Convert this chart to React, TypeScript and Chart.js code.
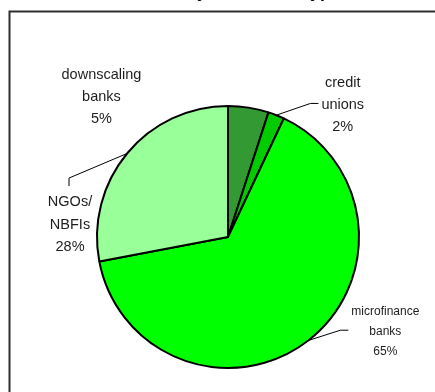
import React, { useEffect, useRef } from "react";
import { Chart, registerables } from "chart.js";

Chart.register(...registerables);

// Share of institutions by type (percent)
const categories = ["downscaling banks", "credit unions", "microfinance banks", "NGOs/NBFIs"];
const labelLines = [["downscaling", "banks"], ["credit", "unions"], ["microfinance", "banks"], ["NGOs/", "NBFIs"]];
const shares = [5, 2, 65, 28];
const sliceColors = ["#339933", "#00cc00", "#00ff00", "#99ff99"];
const titleText = "Distribution by institution type";

// Label placement, in units of the pie radius from the pie centre
const labelLayout = [
  { dx: -0.966, dy: -1.066, size: 14.5, gap: 22, leader: "none" },
  { dx: 0.876, dy: -1.008, size: 14.5, gap: 21.7, leader: "left" },
  { dx: 1.201, dy: 0.723, size: 12, gap: 19.7, leader: "left" },
  { dx: -1.206, dy: -0.095, size: 14.5, gap: 22.5, leader: "top" },
];

const FONT = "'Liberation Sans', Arial, sans-serif";

const framePlugin = {
  id: "frameAndTitle",
  beforeDraw(chart: any) {
    const ctx = chart.ctx;
    ctx.save();
    ctx.fillStyle = "#ffffff";
    ctx.fillRect(0, 0, chart.width, chart.height);
    ctx.strokeStyle = "#2e2e2e";
    ctx.lineWidth = 2;
    ctx.strokeRect(9.5, 11.5, chart.width + 40, chart.height + 40);
    // chart title sits above the top edge of the canvas
    ctx.fillStyle = "#000000";
    ctx.font = `bold italic 18px ${FONT}`;
    ctx.textAlign = "center";
    ctx.textBaseline = "alphabetic";
    ctx.fillText(titleText, 212, -3);
    ctx.restore();
  },
};

const labelPlugin = {
  id: "pieLabels",
  afterDatasetsDraw(chart: any) {
    const ctx = chart.ctx;
    const meta = chart.getDatasetMeta(0);
    ctx.save();
    meta.data.forEach((arc: any, i: number) => {
      const { x, y, startAngle, endAngle, outerRadius } = arc.getProps(
        ["x", "y", "startAngle", "endAngle", "outerRadius"],
        true
      );
      const lay = labelLayout[i];
      const lines = [...labelLines[i], `${shares[i]}%`];
      const cx = x + lay.dx * outerRadius;
      const midY = y + lay.dy * outerRadius;
      const firstY = midY - lay.gap * ((lines.length - 1) / 2);
      ctx.font = `${lay.size}px ${FONT}`;
      ctx.fillStyle = "#1e1e1e";
      ctx.textAlign = "center";
      ctx.textBaseline = "middle";
      let maxW = 0;
      lines.forEach((ln, k) => {
        ctx.fillText(ln, cx, firstY + k * lay.gap);
        maxW = Math.max(maxW, ctx.measureText(ln).width);
      });

      if (lay.leader === "none") return;
      const mid = (startAngle + endAngle) / 2;
      const sx = x + Math.cos(mid) * outerRadius;
      const sy = y + Math.sin(mid) * outerRadius;
      let ex: number, ey: number, bx: number, by: number;
      if (lay.leader === "left") {
        ex = cx - maxW / 2 - 3;
        ey = midY - 1.5;
        bx = ex - 8;
        by = ey;
      } else {
        ex = cx - 1;
        ey = firstY - 16;
        bx = ex;
        by = ey - 8;
      }
      ctx.strokeStyle = "#000000";
      ctx.lineWidth = 1;
      ctx.beginPath();
      ctx.moveTo(sx, sy);
      ctx.lineTo(bx, by);
      ctx.lineTo(ex, ey);
      ctx.stroke();
    });
    ctx.restore();
  },
};

export default function App() {
  const canvasRef = useRef<HTMLCanvasElement | null>(null);

  useEffect(() => {
    if (!canvasRef.current) return;
    const chart = new Chart(canvasRef.current, {
      type: "pie",
      data: {
        labels: categories,
        datasets: [
          {
            data: shares,
            backgroundColor: sliceColors,
            borderColor: "#000000",
            borderWidth: 2,
          },
        ],
      },
      options: {
        animation: false,
        responsive: false,
        devicePixelRatio: 1,
        radius: 131,
        layout: { padding: { left: 21, right: 0, top: 82, bottom: 0 } },
        plugins: {
          legend: { display: false },
          title: { display: false },
          tooltip: { enabled: false },
        },
      } as any,
      plugins: [framePlugin, labelPlugin],
    });
    return () => chart.destroy();
  }, []);

  return (
    <div style={{ position: "absolute", left: 0, top: 0, width: 435, height: 392 }}>
      <canvas ref={canvasRef} width={435} height={392} style={{ display: "block" }} />
    </div>
  );
}
